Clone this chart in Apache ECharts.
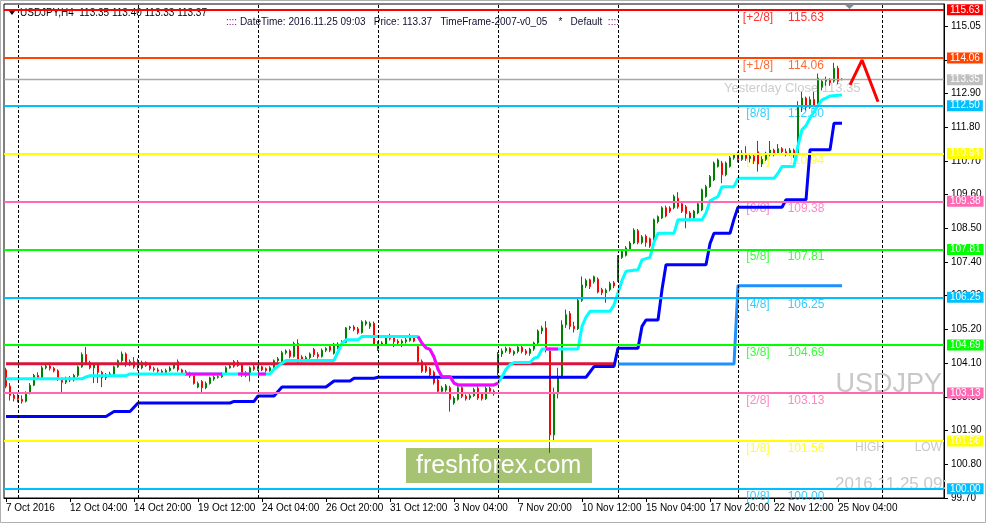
<!DOCTYPE html>
<html><head><meta charset="utf-8">
<script src="https://cdn.jsdelivr.net/npm/echarts@6/dist/echarts.min.js"></script>
<style>html,body{margin:0;padding:0;background:#fff}#c{width:987px;height:525px}</style>
</head><body><div id="c"></div>
<script>
// ---------- DATA ----------
// H4 candles [open, close, low, high] from 7 Oct 2016 12:00 to 25 Nov 2016 08:00
const candles = [
[103.88,103.35,103.28,103.95],[103.35,103.05,102.88,103.45],[103.05,102.95,102.85,103.15],
[102.98,102.92,102.82,103.12],[102.92,102.86,102.78,103.05],[102.86,103.12,102.82,103.18],[103.12,103.38,103.08,103.45],[103.38,103.70,103.35,103.75],[103.70,103.62,103.55,103.80],
[103.62,103.95,103.58,104.02],[103.95,104.00,103.90,104.08],[104.00,103.93,103.86,104.12],[103.93,103.85,103.80,103.98],[103.85,103.58,103.52,103.90],[103.58,103.48,103.15,103.62],
[103.48,103.60,103.42,103.66],[103.60,103.55,103.48,103.68],[103.55,103.70,103.50,103.75],[103.70,103.98,103.65,104.02],[103.98,104.38,103.95,104.45],[104.38,104.12,104.05,104.63],
[104.12,103.95,103.90,104.18],[103.95,104.05,103.45,104.10],[104.05,103.80,103.45,104.10],[103.80,103.62,103.32,103.85],[103.62,103.72,103.55,103.78],[103.72,103.75,103.65,103.82],
[103.75,103.98,103.70,104.02],[103.98,104.18,103.95,104.22],[104.18,104.40,104.12,104.48],[104.40,104.05,103.98,104.45],[104.05,104.15,104.00,104.22],[104.15,103.98,103.92,104.30],
[104.15,103.95,103.85,104.25],[103.95,104.12,103.90,104.18],[104.12,104.02,103.98,104.16],[104.02,103.92,103.86,104.08],[103.92,103.88,103.82,103.98],[103.88,103.84,103.78,103.95],
[103.84,103.80,103.74,103.90],[103.80,103.86,103.76,103.92],[103.86,103.94,103.82,104.00],[103.94,104.05,103.90,104.10],[104.15,103.88,103.82,104.22],[103.88,103.78,103.72,103.92],
[103.82,103.74,103.68,103.88],[103.78,103.68,103.62,103.82],[103.70,103.44,103.40,103.75],[103.32,103.44,103.28,103.50],[103.50,103.30,103.13,103.55],[103.30,103.44,103.25,103.50],
[103.44,103.62,103.40,103.66],[103.58,103.64,103.52,103.70],[103.64,103.66,103.60,103.72],[103.66,103.75,103.62,103.80],[103.78,103.95,103.74,104.00],[103.95,104.00,103.92,104.05],
[104.15,104.00,103.95,104.20],[104.14,104.02,103.98,104.20],[104.05,103.78,103.65,104.10],[103.78,103.70,103.64,103.84],[103.72,103.95,103.50,104.00],[103.98,103.90,103.85,104.05],
[103.90,103.98,103.85,104.02],[103.98,103.88,103.84,104.02],[103.92,103.86,103.80,103.96],[103.86,103.95,103.82,104.00],[103.95,104.18,103.92,104.22],[104.18,104.24,104.12,104.30],
[104.12,104.44,104.08,104.50],[104.44,104.50,104.38,104.55],[104.50,104.32,104.26,104.55],[104.32,104.74,104.28,104.80],[104.74,104.16,104.10,104.88],[104.30,104.18,104.12,104.36],
[104.18,104.28,104.14,104.34],[104.28,104.40,104.24,104.45],[104.55,104.38,104.30,104.60],[104.38,104.32,104.25,104.46],[104.32,104.52,104.28,104.58],[104.52,104.58,104.46,104.62],
[104.64,104.52,104.46,104.68],[104.42,104.72,104.38,104.76],[104.60,104.72,104.55,104.78],[104.70,104.80,104.65,104.85],[104.78,105.25,104.75,105.28],[105.25,105.28,105.18,105.32],
[105.28,105.20,105.14,105.34],[105.22,105.10,105.04,105.28],[105.10,105.45,105.06,105.50],[105.38,105.45,105.32,105.50],[105.30,105.40,105.22,105.46],[105.40,104.72,104.66,105.46],
[104.56,104.76,104.50,104.82],[104.76,104.72,104.66,104.82],[104.72,104.96,104.68,105.00],[104.98,104.90,104.84,105.06],[104.94,104.80,104.62,104.98],[104.82,104.76,104.70,104.88],
[104.76,104.82,104.62,104.88],[104.80,104.86,104.74,104.92],[104.84,104.96,104.80,105.06],[104.94,104.82,104.78,105.00],[104.64,104.16,104.10,104.70],[104.16,103.84,103.78,104.22],
[104.00,103.84,103.78,104.06],[103.92,103.72,103.66,103.98],[103.80,103.46,103.40,103.86],[103.55,103.18,103.12,103.60],[103.18,103.30,103.12,103.36],[103.22,103.36,103.16,103.42],
[103.30,102.92,102.52,103.36],[102.80,102.96,102.74,103.02],[102.92,103.30,102.88,103.36],[103.30,103.02,102.96,103.38],[103.02,102.94,102.88,103.08],[102.96,103.04,102.90,103.10],
[103.04,103.24,103.00,103.30],[103.28,102.96,102.90,103.40],[103.10,102.94,102.88,103.16],[102.94,103.28,102.90,103.34],[103.28,103.18,103.12,103.34],[103.18,103.10,103.04,103.24],
[103.78,104.40,103.70,104.46],[104.40,104.50,104.30,104.58],[104.50,104.58,104.44,104.64],[104.58,104.46,104.40,104.62],[104.40,104.48,104.34,104.52],[104.48,104.62,104.42,104.68],
[104.62,104.48,104.42,104.66],[104.50,104.42,104.36,104.56],[104.42,104.56,104.34,104.60],[104.56,104.76,104.50,104.80],[104.76,105.15,104.70,105.20],[105.15,105.25,105.05,105.32],
[105.25,104.55,104.45,105.47],[104.50,101.76,101.17,104.62],[101.76,103.10,101.55,103.30],[103.10,103.65,102.95,103.95],[103.65,105.35,103.60,105.50],[105.35,105.68,105.25,105.85],
[105.72,105.30,105.20,105.80],[105.30,105.22,105.10,105.45],[105.22,106.15,105.18,106.22],[106.15,106.65,106.10,106.93],[106.62,106.80,106.55,106.86],[106.82,106.60,106.52,106.86],
[106.76,106.92,106.70,106.96],[106.84,106.42,106.38,106.90],[106.50,106.40,106.32,106.56],[106.40,106.48,106.07,106.54],[106.50,106.70,106.44,106.76],[106.72,106.62,106.55,106.78],
[106.80,107.55,106.75,107.62],[107.55,107.74,107.50,107.80],[107.62,107.86,107.58,107.92],[107.82,108.02,107.78,108.08],[108.02,108.44,107.98,108.50],[108.42,108.04,107.98,108.48],
[108.04,108.22,107.98,108.28],[108.24,108.04,107.90,108.30],[108.16,107.92,107.86,108.20],[108.12,108.78,108.08,108.82],[108.72,108.88,108.66,108.92],[108.84,109.17,108.80,109.22],
[109.17,108.90,108.86,109.24],[109.16,109.06,109.00,109.22],[109.17,109.54,109.12,109.60],[109.48,109.20,109.14,109.68],[109.30,109.06,109.00,109.36],[109.20,108.98,108.50,109.26],
[109.00,108.84,108.80,109.06],[108.84,109.06,108.78,109.10],[109.00,109.30,108.96,109.36],[109.10,109.76,109.06,109.80],[109.54,109.86,109.50,109.92],[109.86,110.19,109.82,110.24],
[110.08,110.63,110.04,110.68],[110.52,110.73,110.48,110.78],[110.63,110.25,109.97,110.70],[110.25,110.63,110.20,110.68],[110.52,110.80,110.48,110.86],[110.80,110.90,110.74,110.96],
[110.90,110.75,110.65,111.00],[110.75,110.95,110.70,111.05],[110.95,110.78,110.70,111.18],[110.78,110.85,110.65,110.95],[110.85,110.70,110.60,110.95],[111.00,110.60,110.35,111.35],
[110.60,110.75,110.50,110.85],[110.75,110.95,110.70,111.00],[110.95,111.05,110.85,111.35],[111.05,110.95,110.85,111.10],[110.95,111.10,110.90,111.25],[111.10,111.00,110.90,111.15],
[111.00,110.95,110.85,111.10],[110.95,111.05,110.88,111.12],[111.05,110.90,110.80,111.10],[110.95,112.45,110.90,112.65],[112.45,112.75,112.30,112.95],[112.75,112.45,112.35,112.80],
[112.45,112.70,112.40,112.80],[112.70,112.50,112.45,112.95],[112.55,113.40,112.50,113.55],[113.10,113.30,113.00,113.35],[113.30,113.35,113.15,113.45],[113.35,113.25,113.15,113.40],
[113.30,113.72,113.25,113.90],[113.72,113.30,113.20,113.80],[113.35,113.37,113.33,113.40]
];
const futureSlots = 25;

// Horizontal Murrey-math levels
const levelValues = [115.63, 114.06, 113.35, 112.50, 110.94, 109.38, 107.81, 106.25, 104.69, 103.13, 101.56, 100.00];
const levelNames  = ['[+2/8]','[+1/8]','Yesterday Close','[8/8]','[7/8]','[6/8]','[5/8]','[4/8]','[3/8]','[2/8]','[1/8]','[0/8]'];

// Indicator polylines [barIndex, price]
const cyanLine = [[0,103.59],[19,103.59],[20,103.65],[21,103.69],[30,103.69],[31,103.75],[66,103.75],[67,103.9],[69,104.1],[70,104.19],[82,104.19],[84,104.75],[85,104.86],[88,104.86],[89,104.97],[103,104.97],
 [104,104.75],[105,104.6],[106,104.55],[107,104.3],[108,103.9],[109,103.66],[111,103.66],[112,103.45],[113,103.39],[122,103.39],[123,103.45],[124,103.66],[125,103.9],[126,104.05],[127,104.12],[131,104.12],[132,104.26],[133,104.3],[134,104.56],[143,104.56],
 [144,105.3],[145,105.6],[146,105.79],[151,105.79],[152,106.0],[153,106.4],[154,106.8],[155,107.1],[158,107.15],[159,107.47],[161,107.55],[162,108.05],[163,108.34],[167,108.34],[168,108.78],[174,108.78],[175,109.0],[176,109.4],[178,109.54],[179,109.86],[182,109.86],[183,110.13],[192,110.13],[193,110.3],[194,110.52],[197,110.52],
 [198,111.2],[199,111.72],[200,111.85],[201,112.1],[202,112.3],[203,112.5],[204,112.69],[205,112.75],[206,112.82],[209,112.85]];
const magentaSegments = [
 [[45,103.75],[54,103.75]],
 [[58,103.75],[61,103.75]],
 [[63,103.75],[65,103.75]],
 [[103,104.97],[104,104.75],[105,104.6],[106,104.55],[107,104.3],[108,103.9],[109,103.66],[111,103.66],[112,103.45],[113,103.39],[122,103.39],[123,103.45]],
 [[135,104.56],[138,104.56]]
];
const blueLine = [[0,102.36],[25,102.36],[27,102.52],[31,102.52],[33,102.8],[56,102.8],[57,102.85],[62,102.85],[63,103.03],[67,103.03],[69,103.32],[80,103.32],[82,103.52],[86,103.52],[87,103.61],[92,103.61],[93,103.64],[145,103.64],[147,103.99],[152,103.99],[153,104.59],[158,104.59],[159,105.3],[160,105.51],[163,105.51],[164,106.5],[165,107.31],[175,107.31],[176,108.0],[177,108.34],[181,108.34],[182,108.8],[183,109.19],[194,109.19],[195,109.43],[200,109.43],[201,111.06],[206,111.06],[207,111.93],[209,111.93]];
const dodgerLine = [[153,104.07],[182,104.07],[183,106.63],[209,106.63]];
const crimsonLine = [[0,104.08],[152,104.08]];
const zigzag = [[211,113.18],[214,113.99],[218,112.63]];
const weekStarts = [3, 33, 63, 93, 123, 153, 183, 219];
const yTickLabels = ['99.70','100.80','101.90','103.00','104.10','105.20','106.30','107.40','108.50','109.60','110.70','111.80','112.90','114.00','115.05'];

// ---------- STYLE ----------
const F = '"Liberation Sans", Arial, sans-serif';
const levelColors = ['#FF0000','#FF4500','#A8A8A8','#00BFFF','#FFFF00','#FF69B4','#00FF00','#00BFFF','#00FF00','#FF69B4','#FFFF00','#00BFFF'];
const boxColors   = ['#FF0000','#FF4500','#C0C0C0','#00BFFF','#FFFF00','#FF69B4','#00FF00','#00BFFF','#00FF00','#FF69B4','#FFFF00','#00BFFF'];

// ---------- CATEGORIES ----------
const MON = ['Jan','Feb','Mar','Apr','May','Jun','Jul','Aug','Sep','Oct','Nov','Dec'];
const barTimes = [];
(function(){ let t = Date.UTC(2016,9,7,12); while (barTimes.length < candles.length) { const d = new Date(t); const wd = d.getUTCDay(); if (wd >= 1 && wd <= 5) barTimes.push(d); t += 4*3600e3; } })();
const categories = barTimes.map((d,i) => i === 0 ? '7 Oct 2016' : d.getUTCDate() + ' ' + MON[d.getUTCMonth()] + ' ' + String(d.getUTCHours()).padStart(2,'0') + ':00');
for (let k = 0; k < futureSlots; k++) categories.push('');
const nBars = candles.length;
const showLbl = (i) => i % 16 === 0 && i < nBars;

const lineSeries = (data, color, width, z) => ({type:'line', data, z, silent:true, symbol:'none', showSymbol:false, animation:false, lineStyle:{color, width}, emphasis:{disabled:true}});

const series = [];
// weekly dashed grid
series.push({type:'line', data:[], z:1, silent:true, markLine:{symbol:['none','none'], silent:true, animation:false, label:{show:false}, lineStyle:{color:'#000', type:[3,2], width:1}, data: weekStarts.map(i => ({xAxis:i}))}});
// candles
series.push({type:'candlestick', data:candles, z:2, barWidth:2, silent:true, itemStyle:{color:'#008000', color0:'#FF0000', borderColor:'#008000', borderColor0:'#FF0000', borderWidth:1}});
// levels
series.push({type:'line', data:[], z:3, silent:true, markLine:{symbol:['none','none'], silent:true, animation:false,
  data: levelValues.map((v,i) => ({yAxis:v, lineStyle:{color:levelColors[i], width: i===2 ? 1.3 : 2, type:'solid'},
    label:{show:true, position:'end', distance:3, formatter: () => v.toFixed(2), backgroundColor: boxColors[i], color:'#fff', padding:[1,3,0,3], fontSize:10, fontFamily:F}}))}});
series.push(lineSeries(crimsonLine, '#DC143C', 3, 3));
series.push(lineSeries(dodgerLine, '#1E90FF', 3, 4));
series.push(lineSeries(blueLine, '#0000FF', 3, 4));
series.push(lineSeries(cyanLine, '#00FFFF', 3, 4));
magentaSegments.forEach(s => series.push(lineSeries(s, '#FF00FF', 3, 5)));
series.push(lineSeries(zigzag, '#FF0000', 3, 5));
// level text labels
const mIdx = levelNames.map((n,i) => i).filter(i => i !== 2);
series.push({type:'scatter', z:1, silent:true, symbolSize:1, itemStyle:{color:'transparent'},
  data: mIdx.map(i => ({value:[188, levelValues[i]], label:{color: levelColors[i], formatter: levelNames[i]}})),
  label:{show:true, position:'bottom', distance:1, fontSize:12, fontFamily:F}});
series.push({type:'scatter', z:1, silent:true, symbolSize:1, itemStyle:{color:'transparent'},
  data: mIdx.map(i => ({value:[200, levelValues[i]], label:{color: levelColors[i], formatter: levelValues[i].toFixed(2)}})),
  label:{show:true, position:'bottom', distance:1, fontSize:12, fontFamily:F}});
series.push({type:'scatter', z:1, silent:true, symbolSize:1, itemStyle:{color:'transparent'},
  data: [{value:[180, levelValues[2]], label:{formatter: levelNames[2] + ' ' + levelValues[2].toFixed(2)}}],
  label:{show:true, position:'bottom', distance:2, align:'left', offset:[-2,0], color:'#C0C0C0', fontSize:13, fontFamily:F}});

const chart = echarts.init(document.getElementById('c'), null, {renderer:'canvas'});
chart.setOption({
  animation:false,
  backgroundColor:'#fff',
  grid:{left:4, right:43, top:4, bottom:27, show:true, borderColor:'#000', borderWidth:1, backgroundColor:'transparent'},
  xAxis:{type:'category', data:categories, boundaryGap:true,
    axisLine:{show:true, lineStyle:{color:'#000'}},
    axisTick:{show:true, alignWithLabel:true, interval:showLbl, length:4, lineStyle:{color:'#000'}},
    axisLabel:{interval:showLbl, align:'left', color:'#000', fontSize:10, fontFamily:F, margin:5},
    splitLine:{show:false}},
  yAxis:[
    {type:'value', min:99.70, max:115.82, show:false},
    {type:'value', position:'right', min:0, max:16.12, interval:1.1,
      axisLine:{show:true, lineStyle:{color:'#000'}}, axisTick:{show:true, length:4, lineStyle:{color:'#000'}},
      axisLabel:{color:'#000', fontSize:10, fontFamily:F, margin:7, showMaxLabel:false, formatter: v => yTickLabels[Math.round(v/1.1)] || ''},
      splitLine:{show:false}}
  ],
  series,
  graphic:[
    {type:'rect', z:0, shape:{x:0.5, y:0.5, width:985, height:522}, style:{fill:'none', stroke:'#B0B0B0', lineWidth:1}, silent:true},
    {type:'rect', z:1, shape:{x:406, y:448, width:186, height:35}, style:{fill:'#A6C273'}, silent:true},
    {type:'text', z:1, x:416, y:466, style:{text:'freshforex.com', font:'25px ' + F, fill:'#fff', verticalAlign:'middle'}, silent:true},
    {type:'text', z:1, x:942, y:385, style:{text:'USDJPY', font:'27px ' + F, fill:'#C8C8C8', align:'right', verticalAlign:'middle'}, silent:true},
    {type:'text', z:1, x:855, y:448, style:{text:'HIGH', font:'12px ' + F, fill:'#C8C8C8', verticalAlign:'middle'}, silent:true},
    {type:'text', z:1, x:942, y:448, style:{text:'LOW', font:'12px ' + F, fill:'#C8C8C8', align:'right', verticalAlign:'middle'}, silent:true},
    {type:'text', z:1, x:835, y:484, style:{text:'2016.11.25 09:03', font:'17px ' + F, fill:'#C8C8C8', verticalAlign:'middle', width:115, overflow:'truncate', ellipsis:''}, silent:true},
    {type:'polygon', z:6, shape:{points:[[9,11],[15,11],[12,15]]}, style:{fill:'#000'}, silent:true},
    {type:'polygon', z:6, shape:{points:[[844,4],[855,4],[849.5,9]]}, style:{fill:'#7F8A96'}, silent:true},
    {type:'text', z:1, x:20, y:13, style:{text:'USDJPY,H4  113.35 113.40 113.33 113.37', font:'10px ' + F, fill:'#000', verticalAlign:'middle'}, silent:true},
    {type:'text', z:1, x:226, y:22, style:{text:'{c|::::}{t| DateTime: 2016.11.25 09:03   Price: 113.37   TimeFrame-2007-v0_05    *   Default  }{c|::::}',
      font:'10px ' + F, verticalAlign:'middle', rich:{c:{fill:'#800080', font:'10px ' + F}, t:{fill:'#101030', font:'10px ' + F}}}, silent:true}
  ]
});
</script></body></html>
